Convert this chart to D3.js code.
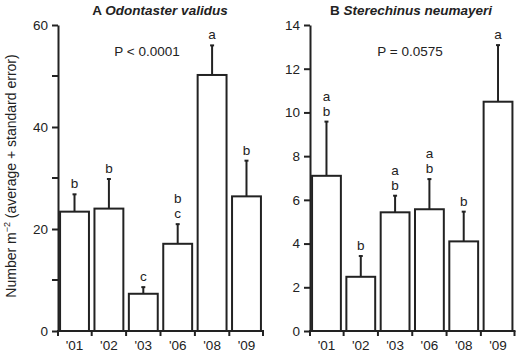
<!DOCTYPE html>
<html><head><meta charset="utf-8">
<script src="https://cdn.jsdelivr.net/npm/d3@7"></script>
<style>
body{margin:0;background:#fff;}
svg{display:block;font-family:"Liberation Sans",Arial,sans-serif;}
</style></head><body>
<svg id="c" width="518" height="352"></svg>
<script>
const years = ["'01","'02","'03","'06","'08","'09"];
const odontasterMean = [23.4, 24.0, 7.3, 17.1, 50.2, 26.4];
const odontasterSE = [3.4, 5.8, 1.3, 3.85, 5.8, 7.0];
const odontasterLetters = [["b"],["b"],["c"],["b","c"],["a"],["b"]];
const sterechinusMean = [7.1, 2.48, 5.43, 5.57, 4.1, 10.49];
const sterechinusSE = [2.48, 0.95, 0.76, 1.38, 1.36, 2.59];
const sterechinusLetters = [["a","b"],["b"],["a","b"],["a","b"],["b"],["a"]];
const leftTicks = [0,20,40,60];
const leftMinor = [10,30,50];
const rightTicks = [0,2,4,6,8,10,12,14];

const svg = d3.select("#c");
const col = "#222";
const fs = 13.5;

function panel(opts){
  const g = svg.append("g");
  const x = d3.scaleBand().domain(years).range([opts.x0, opts.x1]).paddingInner(0.16).paddingOuter(0.06);
  const y = d3.scaleLinear().domain([0, opts.max]).range([331, 25]);
  g.selectAll("rect.bar").data(years).join("rect")
    .attr("x", d=>x(d)).attr("width", x.bandwidth())
    .attr("y", (d,i)=>y(opts.mean[i])).attr("height",(d,i)=>y(0)-y(opts.mean[i]))
    .attr("fill","#fff").attr("stroke",col).attr("stroke-width",2);
  g.selectAll("line.err").data(years).join("line")
    .attr("x1", d=>x(d)+x.bandwidth()/2).attr("x2", d=>x(d)+x.bandwidth()/2)
    .attr("y1",(d,i)=>y(opts.mean[i])).attr("y2",(d,i)=>y(opts.mean[i]+opts.se[i]))
    .attr("stroke",col).attr("stroke-width",2);
  g.selectAll("line.cap").data(years).join("line")
    .attr("x1", d=>x(d)+x.bandwidth()/2-2).attr("x2", d=>x(d)+x.bandwidth()/2+2)
    .attr("y1",(d,i)=>y(opts.mean[i]+opts.se[i])).attr("y2",(d,i)=>y(opts.mean[i]+opts.se[i]))
    .attr("stroke",col).attr("stroke-width",2);
  years.forEach((d,i)=>{
    const L = opts.letters[i];
    const top = y(opts.mean[i]+opts.se[i]);
    L.forEach((t,j)=>{
      g.append("text").attr("x", x(d)+x.bandwidth()/2)
        .attr("y", top - 6 - (L.length-1-j)*15)
        .attr("text-anchor","middle").attr("font-size",fs).attr("fill",col).text(t);
    });
  });
  const ya = d3.axisLeft(y).tickValues(opts.ticks).tickSize(6).tickPadding(4).tickSizeOuter(0);
  const yg = g.append("g").attr("transform",`translate(${opts.x0},0)`).call(ya);
  if(opts.minor){
    yg.selectAll("line.minor").data(opts.minor).join("line")
      .attr("x1",0).attr("x2",-6).attr("y1",d=>y(d)).attr("y2",d=>y(d))
      .attr("stroke",col).attr("stroke-width",2);
  }
  yg.select(".domain").attr("stroke",col).attr("stroke-width",2);
  yg.selectAll(".tick line").attr("stroke",col).attr("stroke-width",2);
  yg.selectAll(".tick text").attr("font-size",fs).attr("fill",col).attr("font-family","Liberation Sans, Arial, sans-serif");
  const xg = g.append("g").attr("transform",`translate(0,${y(0)})`);
  xg.append("line").attr("x1",opts.x0-1).attr("x2",opts.x1+1).attr("y1",0).attr("y2",0).attr("stroke",col).attr("stroke-width",2);
  const bounds = years.map(d=>x(d)-x.step()*x.paddingInner()/2).concat([opts.x1]);
  bounds[0]=opts.x0;
  xg.selectAll("line.tk").data(bounds).join("line")
    .attr("x1",d=>d).attr("x2",d=>d).attr("y1",0).attr("y2",5)
    .attr("stroke",col).attr("stroke-width",2);
  xg.selectAll("text").data(years).join("text")
    .attr("x",d=>x(d)+x.bandwidth()/2).attr("y",18.5)
    .attr("text-anchor","middle").attr("font-size",fs).attr("fill",col).text(d=>d);
  const tt = g.append("text").attr("x",opts.titleX).attr("y",15).attr("text-anchor","middle")
    .attr("font-size",13.5).attr("font-weight","bold").attr("fill",col);
  tt.append("tspan").text(opts.letter+" ");
  tt.append("tspan").attr("font-style","italic").text(opts.species);
  g.append("text").attr("x",opts.pX).attr("y",56).attr("text-anchor","middle")
    .attr("font-size",fs).attr("fill",col).text(opts.p);
}

panel({x0:58, x1:263, max:60, mean:odontasterMean, se:odontasterSE, letters:odontasterLetters,
  ticks:leftTicks, minor:leftMinor, titleX:160, letter:"A", species:"Odontaster validus", pX:147, p:"P < 0.0001"});
panel({x0:310, x1:514.5, max:14, mean:sterechinusMean, se:sterechinusSE, letters:sterechinusLetters,
  ticks:rightTicks, minor:null, titleX:411, letter:"B", species:"Sterechinus neumayeri", pX:410, p:"P = 0.0575"});

const yl = svg.append("text").attr("transform","translate(16,176) rotate(-90)")
  .attr("text-anchor","middle").attr("font-size",14).attr("fill",col);
yl.append("tspan").text("Number m");
yl.append("tspan").attr("font-size",9).attr("dy",-6).text("\u22122");
yl.append("tspan").attr("dy",6).text(" (average + standard error)");
</script>
</body></html>
